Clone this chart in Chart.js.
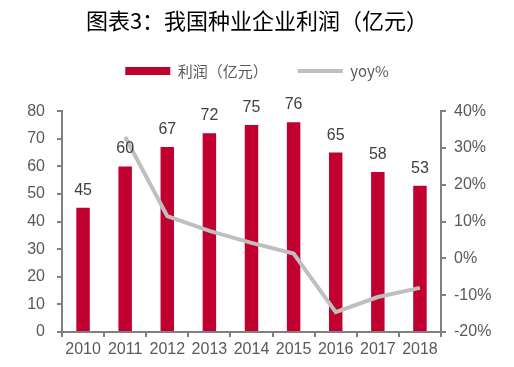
<!DOCTYPE html>
<html>
<head>
<meta charset="utf-8">
<script src="https://cdn.jsdelivr.net/npm/chart.js@4.4.0/dist/chart.umd.min.js"></script>
<style>
  html, body { margin: 0; padding: 0; background: #fff; }
  #wrap { width: 514px; height: 367px; }
</style>
</head>
<body>
<div id="wrap"><canvas id="mainChart" width="514" height="367"></canvas></div>
<script>
const years = ["2010", "2011", "2012", "2013", "2014", "2015", "2016", "2017", "2018"];
const profit = [45, 60, 67, 72, 75, 76, 65, 58, 53];
const yoy = [null, 33, 11.5, 7.5, 4.2, 1.3, -14.6, -10.5, -8];
const profitTicks = { min: 0, max: 80, step: 10 };
const yoyTicks = { min: -20, max: 40, step: 10 };

const RED = "#C0002F";
const GREY_LINE = "#BFBFBF";
const AXIS = "#808080";
const TEXT = "#595959";
const NUM_FONT = "'Liberation Sans', Arial, sans-serif";
const CJK_FONT = "'Noto Sans CJK SC', 'Liberation Sans', sans-serif";

// value labels over the bars
const barLabels = {
  id: "barLabels",
  afterDatasetsDraw(chart) {
    const ctx = chart.ctx;
    const meta = chart.getDatasetMeta(0);
    ctx.save();
    ctx.font = "16px " + NUM_FONT;
    ctx.fillStyle = "#404040";
    ctx.textAlign = "center";
    ctx.textBaseline = "alphabetic";
    meta.data.forEach((bar, i) => {
      ctx.fillText(String(profit[i]), bar.x, bar.y - 13);
    });
    ctx.restore();
  }
};

const axisGrid = {
  display: true,
  drawOnChartArea: false,
  color: AXIS,
  lineWidth: 2,
  tickLength: 5
};

const ctx = document.getElementById("mainChart").getContext("2d");
new Chart(ctx, {
  data: {
    labels: years,
    datasets: [
      {
        type: "bar",
        label: "利润（亿元）",
        data: profit,
        backgroundColor: RED,
        barPercentage: 0.32,
        categoryPercentage: 1,
        yAxisID: "y",
        order: 2
      },
      {
        type: "line",
        label: "yoy%",
        data: yoy,
        borderColor: GREY_LINE,
        backgroundColor: GREY_LINE,
        borderWidth: 4,
        pointRadius: 0,
        tension: 0,
        yAxisID: "y1",
        order: 1
      }
    ]
  },
  options: {
    responsive: false,
    animation: false,
    layout: { padding: 0 },
    plugins: {
      title: {
        display: true,
        text: "图表3：我国种业企业利润（亿元）",
        color: "#000",
        font: { family: CJK_FONT, size: 22, weight: "normal", lineHeight: 1.2 },
        padding: { top: 7, bottom: 0 }
      },
      subtitle: {
        display: true,
        text: "",
        weight: 500,
        font: { size: 19, lineHeight: 1.2 },
        padding: 0
      },
      legend: {
        display: true,
        position: "top",
        labels: {
          usePointStyle: true,
          pointStyleWidth: 45,
          boxHeight: 8,
          padding: 30,
          color: TEXT,
          font: { family: CJK_FONT, size: 15 },
          sort: (a, b) => a.datasetIndex - b.datasetIndex,
          generateLabels(chart) {
            const items = Chart.defaults.plugins.legend.labels.generateLabels(chart);
            return items.map((it) => {
              if (it.datasetIndex === 0) {
                return Object.assign(it, { pointStyle: "rect", lineWidth: 0, fillStyle: RED, strokeStyle: RED });
              }
              return Object.assign(it, { pointStyle: "line", lineWidth: 4, strokeStyle: GREY_LINE, fillStyle: GREY_LINE });
            });
          }
        }
      },
      tooltip: { enabled: false }
    },
    scales: {
      x: {
        offset: true,
        grid: Object.assign({}, axisGrid, { offset: true }),
        border: { display: true, color: AXIS, width: 2 },
        ticks: { color: TEXT, font: { family: NUM_FONT, size: 16 }, padding: 3, maxRotation: 0 },
        afterFit(scale) { scale.height = 35; }
      },
      y: {
        position: "left",
        min: profitTicks.min,
        max: profitTicks.max,
        grid: axisGrid,
        border: { display: true, color: AXIS, width: 2 },
        ticks: { stepSize: profitTicks.step, color: TEXT, font: { family: NUM_FONT, size: 16 }, padding: 12 },
        afterFit(scale) { scale.width = 62; }
      },
      y1: {
        position: "right",
        min: yoyTicks.min,
        max: yoyTicks.max,
        grid: axisGrid,
        border: { display: true, color: AXIS, width: 2 },
        ticks: {
          stepSize: yoyTicks.step,
          color: TEXT,
          font: { family: NUM_FONT, size: 16 },
          padding: 8,
          callback: (v) => v + "%"
        },
        afterFit(scale) { scale.width = 73; }
      }
    }
  },
  plugins: [barLabels]
});
</script>
</body>
</html>
